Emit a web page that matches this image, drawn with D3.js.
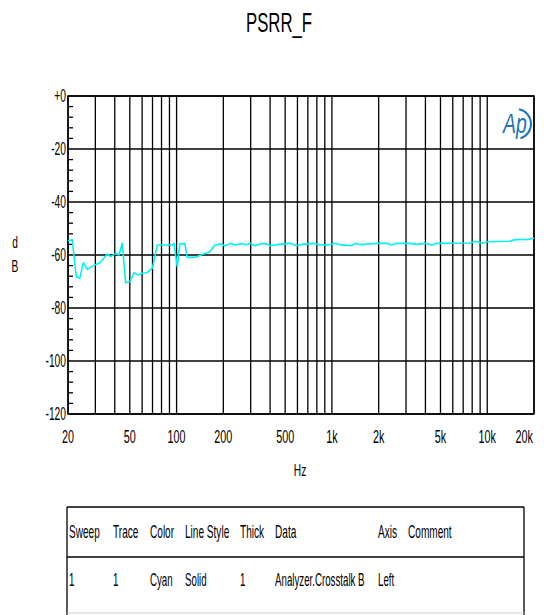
<!DOCTYPE html>
<html>
<head>
<meta charset="utf-8">
<script src="https://cdn.jsdelivr.net/npm/d3@7"></script>
<style>
  html, body { margin: 0; padding: 0; background: #fff; }
  svg { display: block; }
  text { font-family: "Liberation Sans", Arial, sans-serif; fill: #000; }
</style>
</head>
<body>
<svg id="chart" width="544" height="615"></svg>
<script>
const title = "PSRR_F";
const freqs = [20, 21.3, 22.6, 23.8, 25.1, 26.6, 28.7, 32.1, 35.8, 37.7, 40.6, 42.6, 44.7, 47.0, 50.1, 53.2, 56.5, 60.2, 64.2, 69.8, 75.2, 93.9, 96.3, 101, 105, 113, 117, 131, 149, 164, 177, 195, 205, 221, 238, 263, 283, 297, 320, 353, 380, 400, 441, 537, 594, 640, 760, 839, 973, 1048, 1128, 1342, 1409, 1518, 1762, 1946, 2256, 2428, 2618, 3186, 3518, 3981, 4396, 4732, 7762, 8356, 9358, 9931, 14030, 15106, 18410, 19820, 20000];
const dbValues = [-54.6, -54.3, -68.2, -68.8, -62.9, -65.4, -64.2, -62.9, -59.7, -60.6, -59.4, -60.0, -55.6, -70.5, -70.1, -66.7, -67.5, -66.9, -66.7, -65.0, -56.2, -56.2, -55.6, -64.4, -55.8, -55.6, -60.9, -60.9, -59.6, -58.8, -56.2, -55.8, -56.6, -55.6, -56.2, -55.7, -56.1, -55.6, -56.5, -55.7, -55.8, -56.5, -56.1, -55.6, -56.5, -56.0, -55.6, -56.2, -56.1, -55.6, -56.1, -56.5, -55.6, -56.1, -55.8, -55.6, -55.6, -56.2, -55.6, -55.6, -56.0, -55.6, -56.2, -55.6, -55.5, -54.8, -55.6, -55.0, -54.8, -54.2, -54.1, -53.7, -53.6];
const xGridValues = [20, 30, 40, 50, 60, 70, 80, 90, 100, 200, 300, 400, 500, 600, 700, 800, 900, 1000, 2000, 3000, 4000, 5000, 6000, 7000, 8000, 9000, 10000, 20000];
const xTickValues = [20, 50, 100, 200, 500, 1000, 2000, 5000, 10000, 20000];
const xTickLabels = ["20", "50", "100", "200", "500", "1k", "2k", "5k", "10k", "20k"];
const yTickValues = [0, -20, -40, -60, -80, -100, -120];
const yTickLabels = ["+0", "-20", "-40", "-60", "-80", "-100", "-120"];
const yMinorValues = d3.range(-116, 0, 4);
const tableHeaders = ["Sweep", "Trace", "Color", "Line Style", "Thick", "Data", "Axis", "Comment"];
const tableRow = ["1", "1", "Cyan", "Solid", "1", "Analyzer.Crosstalk B", "Left", ""];

const svg = d3.select("#chart");
const L = 68, R = 534, T = 96, B = 414;
const x = d3.scaleLog().domain([20, 20000]).range([L, R]);
const y = d3.scaleLinear().domain([-120, 0]).range([B, T]);
const SX = 0.6;

function narrow(sel, fx, fy, sx) {
  return sel.attr("x", 0).attr("y", 0)
    .attr("transform", (d, i) => `translate(${typeof fx === "function" ? fx(d, i) : fx},${typeof fy === "function" ? fy(d, i) : fy}) scale(${sx || SX},1)`);
}

// title
narrow(svg.append("text").attr("text-anchor", "middle").attr("font-size", 27).text(title), 279, 32, 0.62);

// grid
const g = svg.append("g");
g.selectAll("line.vg").data(xGridValues).join("line")
  .attr("x1", d => x(d)).attr("x2", d => x(d)).attr("y1", T).attr("y2", B)
  .attr("stroke", "#000").attr("stroke-width", 1.3);
g.selectAll("line.hg").data(yTickValues).join("line")
  .attr("x1", L).attr("x2", R).attr("y1", d => y(d)).attr("y2", d => y(d))
  .attr("stroke", "#000").attr("stroke-width", 1.3);
g.selectAll("line.mt").data(yMinorValues.filter(v => v % 20 !== 0)).join("line")
  .attr("x1", L).attr("x2", L + 5).attr("y1", d => y(d)).attr("y2", d => y(d))
  .attr("stroke", "#000").attr("stroke-width", 1.3);
g.append("rect").attr("x", L).attr("y", T).attr("width", R - L).attr("height", B - T)
  .attr("fill", "none").attr("stroke", "#000").attr("stroke-width", 1.5);

// axis labels
narrow(svg.selectAll("text.yl").data(yTickValues).join("text")
  .attr("text-anchor", "end").attr("font-size", 18).text((d, i) => yTickLabels[i]),
  L - 2, d => y(d) + 6, 0.57);
narrow(svg.selectAll("text.xl").data(xTickValues).join("text")
  .attr("text-anchor", (d, i) => i === xTickValues.length - 1 ? "end" : "middle")
  .attr("font-size", 18).text((d, i) => xTickLabels[i]),
  (d, i) => i === xTickValues.length - 1 ? R - 1 : x(d), 443, 0.6);
narrow(svg.append("text").attr("text-anchor", "middle").attr("font-size", 17).text("Hz"), 300, 476);
narrow(svg.append("text").attr("text-anchor", "middle").attr("font-size", 17).text("d"), 15, 248);
narrow(svg.append("text").attr("text-anchor", "middle").attr("font-size", 17).text("B"), 15, 272);

// trace
const line = d3.line().x((d, i) => x(freqs[i])).y(d => y(d));
svg.append("path").datum(dbValues).attr("d", line)
  .attr("fill", "none").attr("stroke", "#00f2f2").attr("stroke-width", 1.6)
  .attr("stroke-linejoin", "round");

// Ap logo
const logo = svg.append("g").attr("transform", "translate(516,124)");
logo.append("text").attr("x", 0).attr("y", 0).attr("text-anchor", "middle")
  .attr("transform", "translate(-1,9) scale(0.72,1)")
  .attr("font-style", "italic").attr("font-size", 27).style("fill", "#1b75b8").text("Ap");
logo.append("path").attr("d", d3.arc()({innerRadius: 14, outerRadius: 16, startAngle: 0.2, endAngle: Math.PI - 0.3}))
  .attr("fill", "#1b75b8");

// table
const tl = 67, tr = 524, tt = 507, tm = 557, tb = 613;
svg.append("line").attr("x1", tl).attr("x2", tr).attr("y1", tt).attr("y2", tt).attr("stroke", "#000").attr("stroke-width", 1.3);
svg.append("line").attr("x1", tl).attr("x2", tr).attr("y1", tm).attr("y2", tm).attr("stroke", "#000").attr("stroke-width", 1.3);
svg.append("line").attr("x1", tl).attr("x2", tl).attr("y1", tt).attr("y2", 615).attr("stroke", "#000").attr("stroke-width", 1.3);
svg.append("line").attr("x1", tr).attr("x2", tr).attr("y1", tt).attr("y2", 615).attr("stroke", "#000").attr("stroke-width", 1.3);
svg.append("line").attr("x1", tl).attr("x2", tr).attr("y1", tb).attr("y2", tb).attr("stroke", "#ccc").attr("stroke-width", 1);
const colX = [69, 113, 150, 185, 240, 275, 378, 408];
narrow(svg.selectAll("text.th").data(tableHeaders).join("text")
  .attr("font-size", 18).text(d => d), (d, i) => colX[i], 538, 0.56);
narrow(svg.selectAll("text.td").data(tableRow).join("text")
  .attr("font-size", 18).text(d => d), (d, i) => colX[i], 586, 0.54);
</script>
</body>
</html>
